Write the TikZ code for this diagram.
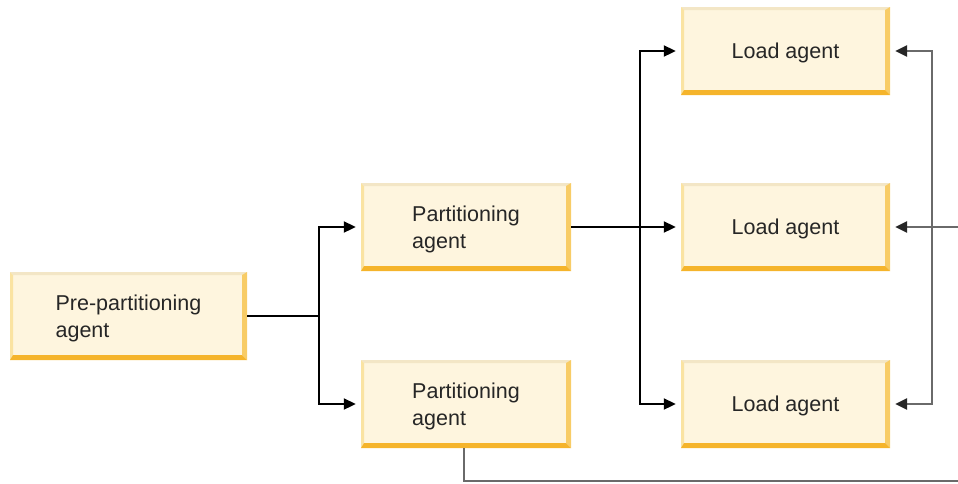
\documentclass[tikz,border=0pt]{standalone}
\usepackage{fontspec}
\setmainfont{Liberation Sans}
\usetikzlibrary{calc,arrows.meta}
\definecolor{boxfill}{HTML}{FEF5DE}
\definecolor{boxtop}{HTML}{F3E6C6}
\definecolor{boxleft}{HTML}{FAE3A2}
\definecolor{boxright}{HTML}{F8CC66}
\definecolor{boxbottom}{HTML}{F5B42B}
\definecolor{txt}{HTML}{262626}
\definecolor{grayline}{HTML}{6A6A6A}
\tikzset{
  agentbox/.style={fill=boxfill, inner sep=0pt, align=left, text=txt,
    font=\fontsize{21.5}{26.5}\selectfont,
    minimum height=88pt, text depth=0pt,
    path picture={
      \coordinate (nw) at (path picture bounding box.north west);
      \coordinate (ne) at (path picture bounding box.north east);
      \coordinate (sw) at (path picture bounding box.south west);
      \coordinate (se) at (path picture bounding box.south east);
      \fill[boxtop] (nw) -- (ne) -- ($(ne)+(-5pt,-3pt)$) -- ($(nw)+(3pt,-3pt)$) -- cycle;
      \fill[boxleft] (nw) -- ($(nw)+(3pt,-3pt)$) -- ($(sw)+(3pt,5pt)$) -- (sw) -- cycle;
      \fill[boxright] (ne) -- ($(ne)+(-5pt,-3pt)$) -- ($(se)+(-5pt,5pt)$) -- (se) -- cycle;
      \fill[boxbottom] (sw) -- ($(sw)+(3pt,5pt)$) -- ($(se)+(-5pt,5pt)$) -- (se) -- cycle;
    }},
  conn/.style={line width=2pt, black, -{Triangle[length=12pt,width=11pt]}},
  connplain/.style={line width=2pt, black},
  gconn/.style={line width=2.8pt, grayline, -{Triangle[length=12pt,width=11pt,color=black!85]}},
  gplain/.style={line width=2.8pt, grayline},
}
\begin{document}
\begin{tikzpicture}[x=1pt,y=-1pt]
\useasboundingbox (0,0) rectangle (958,483);
\node[agentbox, minimum width=237pt] (pre) at (128.5,316) {Pre-partitioning\\agent};
\node[agentbox, minimum width=210pt] (p1) at (466,227) {Partitioning\\agent};
\node[agentbox, minimum width=210pt] (p2) at (466,404) {Partitioning\\agent};
\node[agentbox, minimum width=209pt] (l1) at (785.5,51) {Load agent};
\node[agentbox, minimum width=209pt] (l2) at (785.5,227) {Load agent};
\node[agentbox, minimum width=209pt] (l3) at (785.5,404) {Load agent};
% left fan-out
\coordinate (j1) at (319,316);
\draw[connplain] (pre.east) -- (j1);
\draw[conn] (j1) |- ([xshift=-5pt]p1.west);
\draw[conn] (j1) |- ([xshift=-5pt]p2.west);
% partitioning to loads
\coordinate (j2) at (640,227);
\draw[conn] (p1.east) -- ([xshift=-5pt]l2.west);
\draw[conn] (j2) |- ([xshift=-5pt]l1.west);
\draw[conn] (j2) |- ([xshift=-5pt]l3.west);
% gray feedback
\coordinate (g1) at (464,481);
\coordinate (g2) at (958,481);
\coordinate (g3) at (958,227);
\coordinate (j3) at (932,227);
\draw[gplain] (p2.south -| g1) -- (g1) -- (g2);
\draw[gconn] (g3) -- ([xshift=5pt]l2.east);
\draw[gconn] (j3) |- ([xshift=5pt]l1.east);
\draw[gconn] (j3) |- ([xshift=5pt]l3.east);
\end{tikzpicture}
\end{document}
